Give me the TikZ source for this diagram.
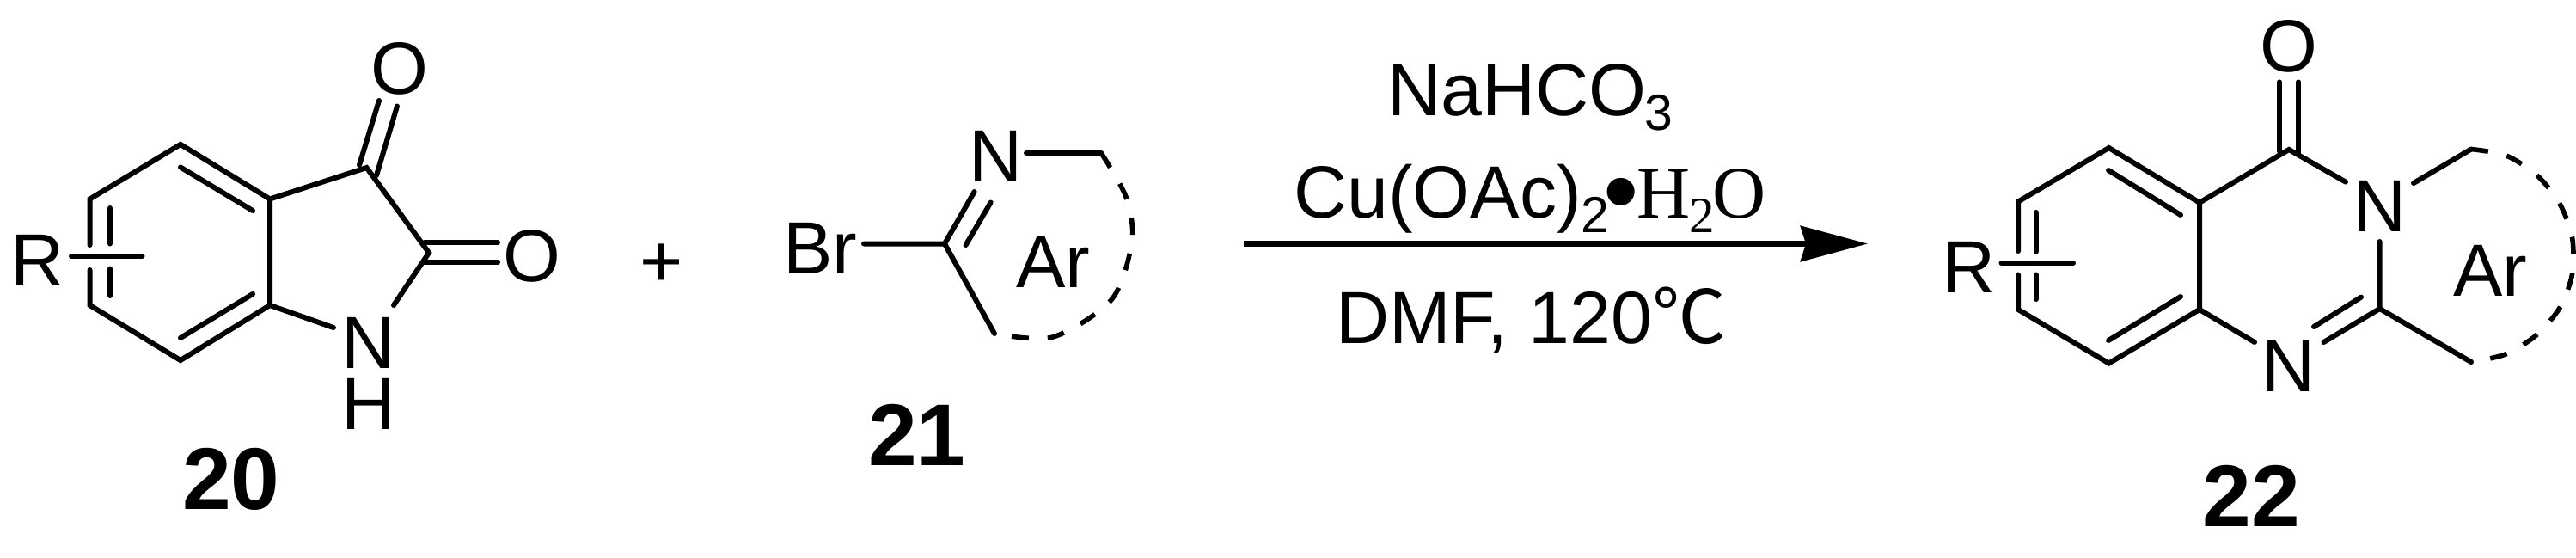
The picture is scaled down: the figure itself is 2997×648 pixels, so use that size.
\documentclass[tikz,border=0pt]{standalone}
\usepackage{fontspec}
\setmainfont{Liberation Sans}
\newfontfamily\timesf{Liberation Serif}
\newfontfamily\cjk{Noto Sans CJK SC}
\usetikzlibrary{arrows.meta}
\newcommand{\lowidx}[1]{\raisebox{-17pt}{\fontsize{59}{59}\selectfont #1}}
\tikzset{
  bond/.style={line width=6pt,line cap=round,line join=miter},
  ringdash/.style={line width=5.6pt,dash pattern=on 20pt off 22pt},
  atom/.style={anchor=base,inner sep=0pt,font=\fontsize{86}{96}\selectfont},
  cond/.style={anchor=base,inner sep=0pt,font=\fontsize{86}{96}\selectfont},
  cmpd/.style={anchor=base,inner sep=0pt,font=\fontsize{102}{110}\selectfont\bfseries},
  rxnarrow/.style={line width=7pt,-{Stealth[length=78pt,width=41pt,inset=6pt]}}
}
\begin{document}
\begin{tikzpicture}[x=1pt,y=-1pt]
\useasboundingbox (0,0) rectangle (2997,648);
% ---- compound 20 ----
\coordinate (a1) at (210,168);
\coordinate (a2) at (104.5,231.5);
\coordinate (a3) at (104.5,355);
\coordinate (a4) at (210,419);
\coordinate (a5) at (314,355);
\coordinate (a6) at (314,231.5);
\coordinate (a7) at (426.5,195);
\coordinate (a8) at (499,294);
\node[atom] (aR) at (44,332) {R};
\node[atom] (aO1) at (465,109) {O};
\node[atom] (aO2) at (619,327.5) {O};
\node[atom] (aN) at (428.5,428) {N};
\node[atom] (aH) at (428.5,499) {H};
\node[cmpd] (c20) at (269,592) {20};
\draw[bond] (104.5,285) -- (a2) -- (a1) -- (a6) -- (a5) -- (a4) -- (a3) -- (104.5,314);
\draw[bond] (a6) -- (a7) -- (a8) -- (458,355);
\draw[bond] (a5) -- (388,381);
\draw[bond] (210,194.5) -- (294,245);
\draw[bond] (210,393) -- (294,342);
\draw[bond] (128,242) -- (128,283.5);
\draw[bond] (128,312.5) -- (128,344);
\draw[bond] (83,297.6) -- (165.5,297.6);
\draw[bond] (418,192) -- (441,117);
\draw[bond] (438,204) -- (462,123.5);
\draw[bond] (494,282) -- (579,282);
\draw[bond] (494,305) -- (579,305);
% plus
\node[atom] (plus) at (770,333) {+};
% ---- compound 21 ----
\coordinate (b1) at (1099,283.5);
\coordinate (b2) at (1281,177.7);
\coordinate (b3) at (1157,388);
\node[atom] (bBr) at (954.5,318) {Br};
\node[atom] (bN) at (1159,211.6) {N};
\node[atom] (bAr) at (1225.6,334.7) {Ar};
\node[cmpd] (c21) at (1067,541) {21};
\draw[bond] (1005,283.5) -- (b1) -- (1133.6,223);
\draw[bond] (1123.6,285) -- (1152.6,235.5);
\draw[bond] (b1) -- (b3);
\draw[bond] (1194,177.7) -- (b2);
\draw[ringdash] plot[smooth] coordinates {(b2) (1310,229) (1317,280) (1293.6,348) (1225,392) (b3)};
% ---- conditions ----
\coordinate (arrS) at (1447,283.5);
\coordinate (arrE) at (2173,283.5);
\draw[rxnarrow] (arrS) -- (arrE);
\node[cond] (t1) at (1780,134) {NaHCO\kern-2pt\lowidx{3}};
\node[cond] (t2) at (1780,253) {Cu(OAc)\lowidx{2}\kern-7pt\raisebox{-9pt}{\fontsize{118}{118}\selectfont •}\kern-2pt{\timesf H\kern-2pt\lowidx{2}\kern-2pt O}};
\node[cond] (t3) at (1781,399) {DMF, 120{\cjk ℃}};
% ---- compound 22 ----
\coordinate (c1) at (2453.5,172);
\coordinate (c2) at (2348,234.5);
\coordinate (c3) at (2348,360);
\coordinate (c4) at (2453.5,422.5);
\coordinate (c5) at (2559,360);
\coordinate (c6) at (2559,235.7);
\coordinate (c7) at (2663,174);
\coordinate (c8) at (2768.6,359);
\coordinate (c9) at (2875,173.5);
\coordinate (c10) at (2875,421);
\node[atom] (cR) at (2291,340) {R};
\node[atom] (cO) at (2663,83) {O};
\node[atom] (cN3) at (2768.6,269) {N};
\node[atom] (cN1) at (2663,455) {N};
\node[atom] (cAr) at (2897,344) {Ar};
\node[cmpd] (c22) at (2619,612) {22};
\draw[bond] (2348,292) -- (c2) -- (c1) -- (c6) -- (c5) -- (c4) -- (c3) -- (2348,319.5);
\draw[bond] (2453,198) -- (2537,250);
\draw[bond] (2453,396) -- (2537,345);
\draw[bond] (2369,247) -- (2369,292.5);
\draw[bond] (2369,319.5) -- (2369,348);
\draw[bond] (2328.5,306) -- (2412,306);
\draw[bond] (c6) -- (c7) -- (2729,211.6);
\draw[bond] (2808,213) -- (c9);
\draw[bond] (2652,95.4) -- (2652,176);
\draw[bond] (2674,95.4) -- (2674,178);
\draw[bond] (2768.6,281) -- (c8) -- (2703.5,398);
\draw[bond] (2747,345.6) -- (2692,380);
\draw[bond] (c5) -- (2623,398);
\draw[bond] (c8) -- (c10);
\draw[ringdash] plot[smooth] coordinates {(c9) (2915.7,181) (2951.7,204) (2978,237) (2992.5,276) (2992.5,319) (2978,358) (2950.6,390) (2915,412) (c10)};
\end{tikzpicture}
\end{document}
